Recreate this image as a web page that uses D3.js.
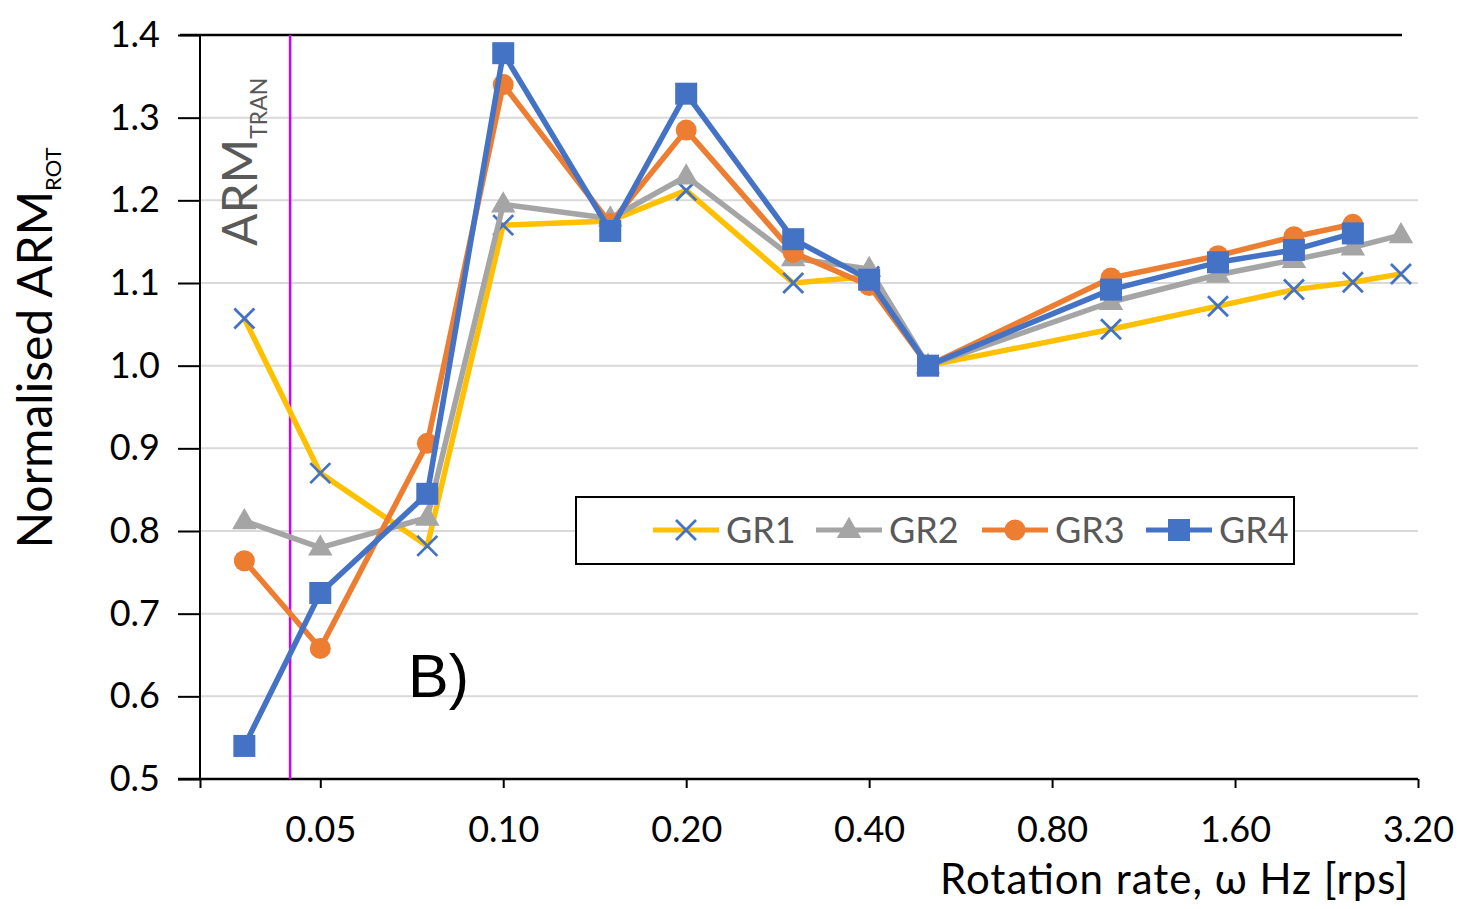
<!DOCTYPE html>
<html>
<head>
<meta charset="utf-8">
<script src="https://cdn.jsdelivr.net/npm/d3@7"></script>
<style>
html,body{margin:0;padding:0;background:#fff;}
svg{display:block;font-family:Lato,"Open Sans",sans-serif;}
</style>
</head>
<body>
<svg id="chart" width="1466" height="909"></svg>
<script>
// ---- data ----
const rates = [0.0375, 0.05, 0.075, 0.1, 0.15, 0.2, 0.3, 0.4, 0.5, 1.0, 1.5, 2.0, 2.5, 3.0];
const gr1 = [1.057, 0.870, 0.782, 1.170, 1.175, 1.212, 1.100, 1.108, 1.000, 1.044, 1.072, 1.092, 1.101, 1.111];
const gr2 = [0.812, 0.780, 0.816, 1.195, 1.178, 1.229, 1.130, 1.117, 1.000, 1.077, 1.110, 1.128, 1.143, 1.158];
const gr3 = [0.764, 0.658, 0.906, 1.340, 1.172, 1.285, 1.137, 1.097, 1.000, 1.106, 1.133, 1.156, 1.171];
const gr4 = [0.540, 0.725, 0.845, 1.378, 1.163, 1.329, 1.153, 1.104, 1.000, 1.092, 1.125, 1.140, 1.160];
const seriesNames = ["GR1", "GR2", "GR3", "GR4"];
const xTicks = [0.05, 0.1, 0.2, 0.4, 0.8, 1.6, 3.2];
const yTicks = [0.5, 0.6, 0.7, 0.8, 0.9, 1.0, 1.1, 1.2, 1.3, 1.4];
const armTranRate = 0.0446;
const xMin = 0.0317, xMax = 3.2;

const series = [
  {name: seriesNames[0], values: gr1, line: "#FFC000", marker: "x", mcolor: "#4472C4"},
  {name: seriesNames[1], values: gr2, line: "#A5A5A5", marker: "triangle", mcolor: "#A5A5A5"},
  {name: seriesNames[2], values: gr3, line: "#ED7D31", marker: "circle", mcolor: "#ED7D31"},
  {name: seriesNames[3], values: gr4, line: "#4472C4", marker: "square", mcolor: "#4472C4"}
];

const svg = d3.select("#chart");
const L = 200, R = 1418, T = 35, B = 779;
const x = d3.scaleLog().base(2).domain([xMin, xMax]).range([L, R]);
const y = d3.scaleLinear().domain([0.5, 1.4]).range([B, T]);

// gridlines
svg.append("g").selectAll("line").data(yTicks.filter(v => v > 0.5 && v < 1.4)).join("line")
  .attr("x1", L).attr("x2", R).attr("y1", d => y(d)).attr("y2", d => y(d))
  .attr("stroke", "#D9D9D9").attr("stroke-width", 2);
// top border line
svg.append("line").attr("x1", 180).attr("x2", 1402).attr("y1", y(1.4)).attr("y2", y(1.4))
  .attr("stroke", "#000").attr("stroke-width", 2.5);

// y axis
const yAxis = d3.axisLeft(y).tickValues(yTicks).tickFormat(d3.format(".1f")).tickSize(22).tickPadding(18);
const gy = svg.append("g").attr("transform", `translate(${L},0)`).call(yAxis);
gy.select(".domain").attr("stroke", "#000").attr("stroke-width", 2).attr("d", `M0,${T}V${B}`);
gy.selectAll(".tick line").attr("stroke", "#000").attr("stroke-width", 2);
gy.selectAll("text").attr("font-size", 36).attr("fill", "#000").attr("font-family", "Lato");

// x axis
const xAxis = d3.axisBottom(x).tickValues([xMin].concat(xTicks))
  .tickFormat(d => d === xMin ? "" : d3.format(".2f")(d)).tickSize(9).tickPadding(28);
const gx = svg.append("g").attr("transform", `translate(0,${B})`).call(xAxis);
gx.select(".domain").attr("stroke", "#000").attr("stroke-width", 2.5).attr("d", `M178,0H${R}`);
gx.selectAll(".tick line").attr("stroke", "#000").attr("stroke-width", 2);
gx.selectAll("text").attr("font-size", 36).attr("fill", "#000").attr("font-family", "Lato");

// ARM_TRAN vertical line
svg.append("line").attr("x1", x(armTranRate)).attr("x2", x(armTranRate))
  .attr("y1", T).attr("y2", B).attr("stroke", "#D000F8").attr("stroke-width", 2.5);

// series
const lineGen = (vals) => d3.line().x((d, i) => x(rates[i])).y(d => y(d))(vals);
function drawMarker(g, type, cx, cy, color) {
  if (type === "x") {
    const s = 10;
    g.append("path").attr("d", `M${cx-s},${cy-s}L${cx+s},${cy+s}M${cx-s},${cy+s}L${cx+s},${cy-s}`)
      .attr("stroke", color).attr("stroke-width", 2.8).attr("fill", "none");
  } else if (type === "triangle") {
    g.append("path").attr("d", d3.symbol().type(d3.symbolTriangle).size(260)())
      .attr("transform", `translate(${cx},${cy+1})`).attr("fill", color);
  } else if (type === "circle") {
    g.append("circle").attr("cx", cx).attr("cy", cy).attr("r", 10.5).attr("fill", color);
  } else {
    g.append("rect").attr("x", cx - 11).attr("y", cy - 11).attr("width", 22).attr("height", 22).attr("fill", color);
  }
}
series.forEach(s => {
  const g = svg.append("g");
  g.append("path").attr("d", lineGen(s.values)).attr("fill", "none")
    .attr("stroke", s.line).attr("stroke-width", 5.5).attr("stroke-linejoin", "round");
  s.values.forEach((v, i) => drawMarker(g, s.marker, x(rates[i]), y(v), s.mcolor));
});

// legend
const lg = svg.append("g");
lg.append("rect").attr("x", 576).attr("y", 497).attr("width", 718).attr("height", 67)
  .attr("fill", "#fff").attr("stroke", "#000").attr("stroke-width", 2);
const legX = [653, 816, 982, 1146];
series.forEach((s, i) => {
  const lx = legX[i], ly = 530;
  lg.append("line").attr("x1", lx).attr("x2", lx + 66).attr("y1", ly).attr("y2", ly)
    .attr("stroke", s.line).attr("stroke-width", 5);
  drawMarker(lg, s.marker, lx + 33, ly, s.mcolor);
  lg.append("text").attr("x", lx + 73).attr("y", ly).attr("dy", "0.36em")
    .attr("font-size", 36).attr("fill", "#595959").text(s.name);
});

// axis titles
const yt = svg.append("text").attr("transform", "translate(52,348) rotate(-90)")
  .attr("text-anchor", "middle").attr("font-size", 48).attr("fill", "#000");
yt.append("tspan").text("Normalised ARM");
yt.append("tspan").attr("font-size", 22).attr("dy", 9).text("ROT");

svg.append("text").attr("x", 940).attr("y", 894).attr("text-anchor", "start")
  .attr("font-size", 42).attr("fill", "#000")
  .attr("textLength", 468).attr("lengthAdjust", "spacing")
  .text("Rotation rate, \u03C9 Hz [rps]");

const at = svg.append("text").attr("transform", "translate(257,246) rotate(-90)")
  .attr("text-anchor", "start").attr("font-size", 48).attr("fill", "#595959");
at.append("tspan").text("ARM");
at.append("tspan").attr("font-size", 23).attr("dy", 10).text("TRAN");

svg.append("text").attr("x", 408).attr("y", 697).attr("font-size", 61)
  .attr("font-family", "Liberation Sans, Arial, sans-serif").attr("fill", "#000").text("B)");
</script>
</body>
</html>
